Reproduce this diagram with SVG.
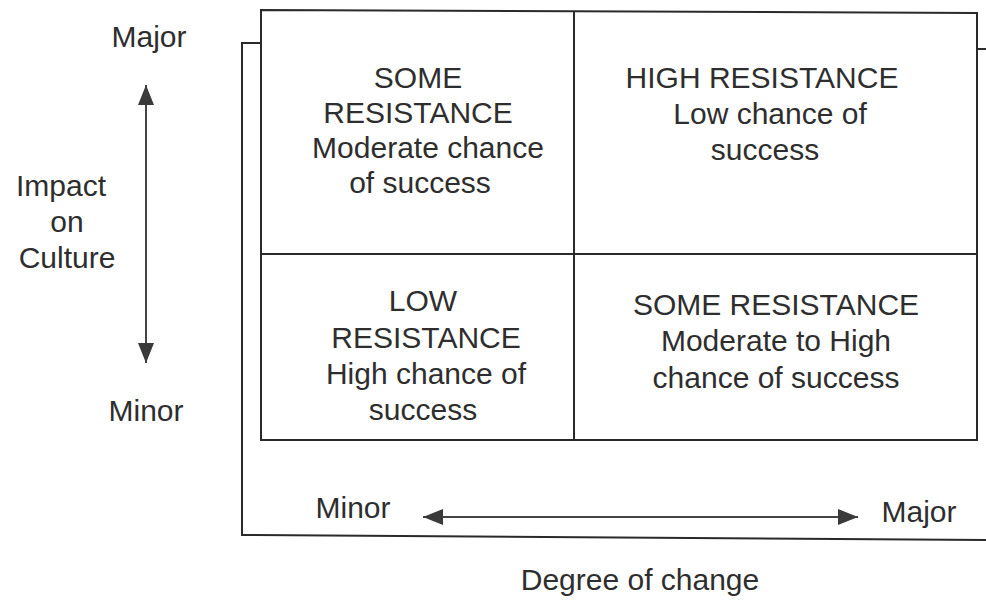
<svg xmlns="http://www.w3.org/2000/svg" width="986" height="609" viewBox="0 0 986 609">
<style>
.t{font-family:"Liberation Sans",Arial,sans-serif;font-size:30px;fill:#2e2e2e;text-anchor:middle}
.ln{stroke:#2a2a2a;stroke-width:2;fill:none}
.ax{stroke:#444;stroke-width:2;fill:none}
</style>
<defs>
<marker id="ah" markerWidth="20" markerHeight="18" refX="20" refY="9" orient="auto-start-reverse" markerUnits="userSpaceOnUse">
<path d="M0,1 L20,9 L0,17 Z" fill="#3a3a3a"/>
</marker>
</defs>
<rect width="986" height="609" fill="#fff"/>
<g id="frame">
<path class="ln" d="M261,43 H242 V535 L986,540"/>
<path class="ln" d="M977,49 H986"/>
</g>
<g id="grid">
<path class="ln" d="M261,10 L977,13 V440 H261 Z"/>
<path class="ln" d="M574,11 V440"/>
<path class="ln" d="M261,254 H977"/>
</g>
<g id="q-top-left">
<text class="t" x="418" y="88">SOME</text>
<text class="t" x="418" y="123">RESISTANCE</text>
<text class="t" x="428" y="158">Moderate chance</text>
<text class="t" x="420" y="193">of success</text>
</g>
<g id="q-top-right">
<text class="t" x="762" y="88">HIGH RESISTANCE</text>
<text class="t" x="770" y="124">Low chance of</text>
<text class="t" x="765" y="160">success</text>
</g>
<g id="q-bottom-left">
<text class="t" x="423" y="311">LOW</text>
<text class="t" x="426" y="348">RESISTANCE</text>
<text class="t" x="426" y="384">High chance of</text>
<text class="t" x="423" y="420">success</text>
</g>
<g id="q-bottom-right">
<text class="t" x="776" y="315">SOME RESISTANCE</text>
<text class="t" x="776" y="351">Moderate to High</text>
<text class="t" x="776" y="388">chance of success</text>
</g>
<g id="y-axis">
<text class="t" x="149" y="47">Major</text>
<text class="t" x="61" y="196">Impact</text>
<text class="t" x="67" y="232">on</text>
<text class="t" x="67" y="268">Culture</text>
<text class="t" x="146" y="421">Minor</text>
</g>
<g id="x-axis">
<text class="t" x="353" y="518">Minor</text>
<text class="t" x="919" y="522">Major</text>
<text class="t" x="640" y="590">Degree of change</text>
</g>
<g id="connectors">
<line class="ax" x1="146" y1="85" x2="146" y2="363" marker-start="url(#ah)" marker-end="url(#ah)"/>
<line class="ax" x1="423" y1="517" x2="858" y2="517" marker-start="url(#ah)" marker-end="url(#ah)"/>
</g>
</svg>
